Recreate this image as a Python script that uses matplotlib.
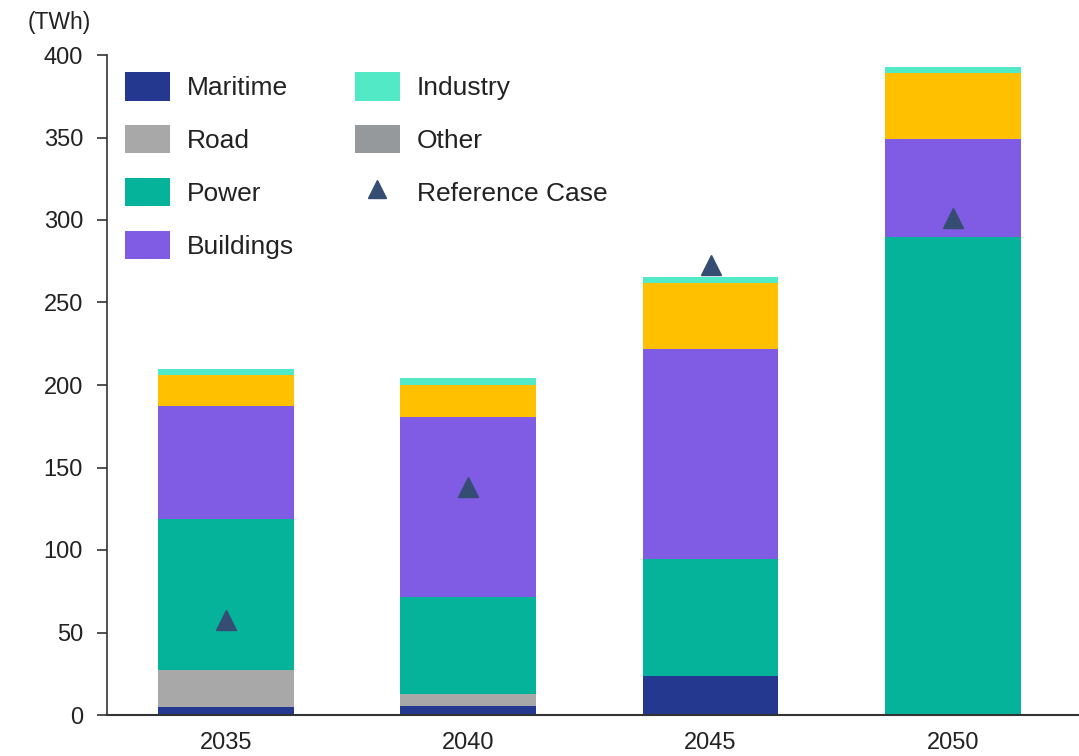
import matplotlib
matplotlib.use("Agg")
import matplotlib.pyplot as plt
from matplotlib.patches import Patch
from matplotlib.lines import Line2D
import numpy as np

years = ["2035", "2040", "2045", "2050"]
maritime = [5, 5.5, 23.6, 0]
road = [22, 7.4, 0, 0]
power = [92, 58.6, 71, 290]
buildings = [68, 109, 127, 59]
other = [19, 19.4, 40, 40]
industry = [4, 4.2, 4, 3.7]
reference_case = [57.6, 138, 273, 301]

y_ticks = [0, 50, 100, 150, 200, 250, 300, 350, 400]

colors = {
    "Maritime": "#253890",
    "Road": "#a8a8a8",
    "Power": "#05b29a",
    "Buildings": "#805ce4",
    "OtherBar": "#ffc000",
    "Industry": "#52e9c6",
    "OtherLegend": "#96999c",
    "Ref": "#354d73",
}

plt.rcParams["font.family"] = ["Liberation Sans", "DejaVu Sans"]
text_color = "#222222"

fig = plt.figure(figsize=(10.79, 7.56), dpi=100)
ax = fig.add_axes([107 / 1079, 1 - 715 / 756, 1 - 107 / 1079, (715 - 55) / 756])

x = np.arange(len(years))
w = 0.56
bottom = np.zeros(len(years))
for vals, key in [(maritime, "Maritime"), (road, "Road"), (power, "Power"),
                  (buildings, "Buildings"), (other, "OtherBar"), (industry, "Industry")]:
    v = np.array(vals, dtype=float)
    ax.bar(x, v, w, bottom=bottom, color=colors[key], linewidth=0, zorder=2)
    bottom += v

ax.plot(x, reference_case, linestyle="none", marker="^", markersize=14,
        color=colors["Ref"], zorder=3)

ax.set_xlim(-0.49, 3.52)
ax.set_ylim(0, 400)
ax.set_xticks(x)
ax.set_xticklabels(years)
ax.set_yticks(y_ticks)
ax.set_yticklabels([str(t) for t in y_ticks])

for s in ["top", "right"]:
    ax.spines[s].set_visible(False)
ax.spines["left"].set_color("#333333")
ax.spines["bottom"].set_color("#333333")
ax.spines["left"].set_linewidth(1.2)
ax.spines["bottom"].set_linewidth(1.5)
ax.tick_params(axis="y", length=7.2, width=1.2, color="#333333", pad=10,
               labelsize=17, labelcolor=text_color)
ax.tick_params(axis="x", length=0, pad=12.5, labelsize=17, labelcolor=text_color)

fig.text(28 / 1079, 1 - 22 / 756, "(TWh)", ha="left", va="center",
         fontsize=16.5, color=text_color)

handles = [
    Patch(facecolor=colors["Maritime"], label="Maritime"),
    Patch(facecolor=colors["Road"], label="Road"),
    Patch(facecolor=colors["Power"], label="Power"),
    Patch(facecolor=colors["Buildings"], label="Buildings"),
    Patch(facecolor=colors["Industry"], label="Industry"),
    Patch(facecolor=colors["OtherLegend"], label="Other"),
    Line2D([], [], linestyle="none", marker="^", markersize=13.5,
           color=colors["Ref"], label="Reference Case"),
    Patch(facecolor="none", edgecolor="none", label=""),
]
leg = fig.legend(handles=handles, ncol=2, loc="upper left",
                 bbox_to_anchor=(125 / 1079, 1 - 72 / 756),
                 frameon=False, fontsize=19, handlelength=1.70, handleheight=1.29,
                 labelspacing=0.92, handletextpad=0.64, columnspacing=2.31,
                 borderpad=0, borderaxespad=0)
for t in leg.get_texts():
    t.set_color(text_color)

fig.savefig("out.png", dpi=100)
